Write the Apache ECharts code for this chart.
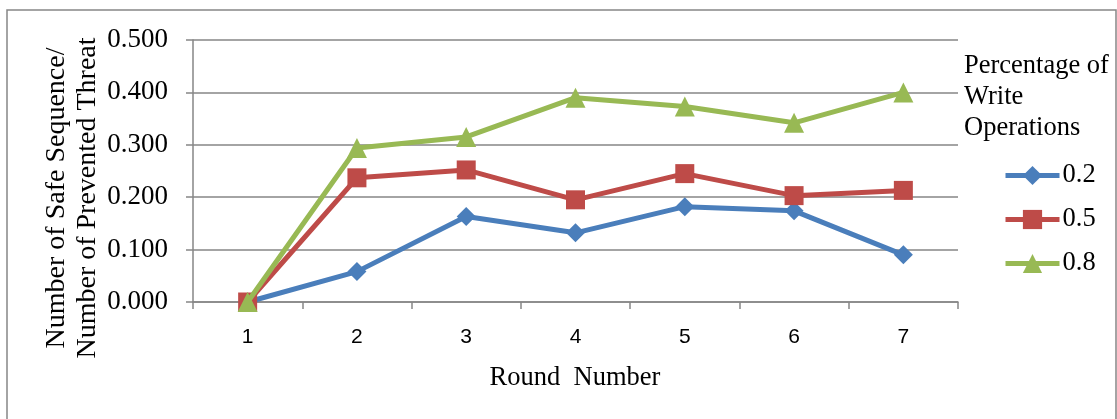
<!DOCTYPE html>
<html>
<head>
<meta charset="utf-8">
<script src="https://cdn.jsdelivr.net/npm/echarts@6/dist/echarts.min.js"></script>
<style>
  html, body { margin: 0; padding: 0; background: #fff; }
  #chart { width: 1117px; height: 419px; }
</style>
</head>
<body>
<div id="chart"></div>
<script>
// Round numbers on the x axis
const rounds = ['1', '2', '3', '4', '5', '6', '7'];

// Safe sequences / prevented threats, one series per write percentage
const write02 = [0.000, 0.058, 0.163, 0.132, 0.182, 0.174, 0.090];
const write05 = [0.000, 0.237, 0.252, 0.195, 0.245, 0.203, 0.213];
const write08 = [0.000, 0.294, 0.315, 0.390, 0.373, 0.342, 0.400];

const seriesNames = ['0.2', '0.5', '0.8'];
const seriesColors = ['#4a7ebb', '#be4b48', '#98b954'];
const seriesSymbols = ['diamond', 'rect', 'triangle'];
const seriesSizes = [19, 19, 20];

const serif = '"Liberation Serif", "Times New Roman", serif';
const grey = '#868686';

const chart = echarts.init(document.getElementById('chart'));

const dataSets = [write02, write05, write08];

chart.setOption({
  animation: false,
  backgroundColor: '#fff',
  grid: { left: 193, right: 159, top: 40, bottom: 117, containLabel: false },
  xAxis: {
    type: 'category',
    data: rounds,
    boundaryGap: true,
    axisLine: { lineStyle: { color: grey, width: 1.5 } },
    axisTick: { show: true, length: 7, lineStyle: { color: grey, width: 1.5 } },
    axisLabel: { fontFamily: '"Liberation Sans", sans-serif', fontSize: 21, color: '#000', margin: 25 },
    splitLine: { show: false }
  },
  yAxis: {
    type: 'value',
    min: 0,
    max: 0.5,
    interval: 0.1,
    axisLine: { show: true, lineStyle: { color: grey, width: 1.5 } },
    axisTick: { show: true, length: 7, lineStyle: { color: grey, width: 1.5 } },
    axisLabel: {
      fontFamily: serif, fontSize: 27, color: '#000', margin: 25,
      formatter: v => v.toFixed(3)
    },
    splitLine: { show: true, lineStyle: { color: grey, width: 1.5 } }
  },
  legend: {
    orient: 'vertical',
    left: 998,
    top: 157,
    itemWidth: 54,
    itemHeight: 24,
    itemGap: 17,
    lineStyle: { width: 5 },
    textStyle: { fontFamily: serif, fontSize: 26.5, color: '#000', padding: [0, 0, 0, -2] },
    data: seriesNames
  },
  series: dataSets.map((d, i) => ({
    name: seriesNames[i],
    type: 'line',
    data: d,
    symbol: seriesSymbols[i],
    symbolSize: seriesSizes[i],
    lineStyle: { color: seriesColors[i], width: 5 },
    itemStyle: { color: seriesColors[i] },
    z: 2 + i
  })),
  graphic: [
    {
      type: 'rect',
      shape: { x: 7, y: 10, width: 1109, height: 430 },
      style: { fill: 'none', stroke: grey, lineWidth: 1.5 },
      silent: true
    },
    {
      type: 'text',
      x: 72, y: 198,
      rotation: Math.PI / 2,
      style: {
        text: 'Number of Safe Sequence/\nNumber of Prevented Threat',
        font: '28px ' + serif,
        fill: '#000',
        align: 'center',
        verticalAlign: 'middle',
        lineHeight: 31
      }
    },
    {
      type: 'text',
      x: 575, y: 378,
      style: {
        text: 'Round  Number',
        font: '26.5px ' + serif,
        fill: '#000',
        align: 'center',
        verticalAlign: 'middle'
      }
    },
    {
      type: 'text',
      x: 964, y: 51,
      style: {
        text: 'Percentage of\nWrite\nOperations',
        font: '26.5px ' + serif,
        fill: '#000',
        align: 'left',
        verticalAlign: 'top',
        lineHeight: 31
      }
    }
  ]
});
</script>
</body>
</html>
